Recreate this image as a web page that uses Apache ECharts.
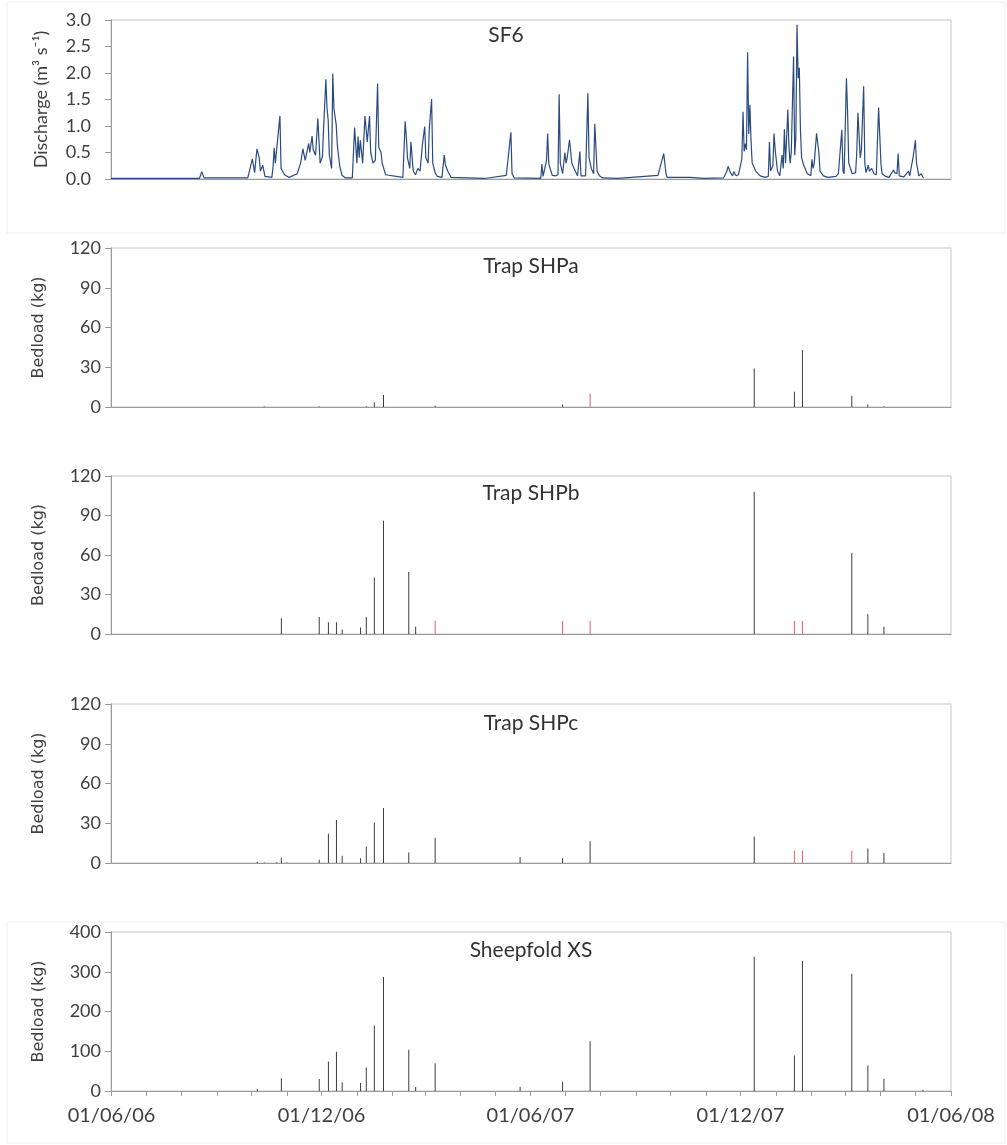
<!DOCTYPE html>
<html>
<head>
<meta charset="utf-8">
<script src="https://cdn.jsdelivr.net/npm/echarts@6/dist/echarts.min.js"></script>
<style>
html, body { margin: 0; background: #fff; }
#chart { width: 1007px; height: 1145px; }
</style>
</head>
<body>
<div id="chart"></div>
<script>
// SF6 discharge (m3/s)
var flowDates = [
    '2006-06-01','2006-08-17','2006-08-19','2006-08-21','2006-09-28','2006-10-02','2006-10-04','2006-10-06','2006-10-08','2006-10-09',
    '2006-10-11','2006-10-13','2006-10-19','2006-10-20','2006-10-21','2006-10-22','2006-10-23','2006-10-26','2006-10-27','2006-10-30',
    '2006-11-03','2006-11-10','2006-11-13','2006-11-15','2006-11-17','2006-11-20','2006-11-21','2006-11-23','2006-11-24','2006-11-26',
    '2006-11-28','2006-11-30','2006-12-02','2006-12-03','2006-12-05','2006-12-06','2006-12-07','2006-12-08','2006-12-10','2006-12-11',
    '2006-12-12','2006-12-14','2006-12-15','2006-12-17','2006-12-19','2006-12-22','2006-12-28','2006-12-30','2007-01-01','2007-01-02',
    '2007-01-03','2007-01-04','2007-01-06','2007-01-08','2007-01-10','2007-01-11','2007-01-12','2007-01-13','2007-01-15','2007-01-17',
    '2007-01-19','2007-01-20','2007-01-22','2007-01-23','2007-01-26','2007-02-10','2007-02-12','2007-02-13','2007-02-14','2007-02-16',
    '2007-02-17','2007-02-19','2007-02-21','2007-02-23','2007-02-25','2007-02-27','2007-03-01','2007-03-02','2007-03-04','2007-03-05',
    '2007-03-07','2007-03-08','2007-03-10','2007-03-12','2007-03-16','2007-03-18','2007-03-19','2007-03-21','2007-03-24','2007-04-22',
    '2007-05-11','2007-05-15','2007-05-16','2007-05-18','2007-06-10','2007-06-11','2007-06-12','2007-06-15','2007-06-16','2007-06-17',
    '2007-06-20','2007-06-23','2007-06-25','2007-06-26','2007-06-27','2007-06-29','2007-07-01','2007-07-02','2007-07-03','2007-07-05',
    '2007-07-06','2007-07-07','2007-07-09','2007-07-12','2007-07-14','2007-07-15','2007-07-19','2007-07-21','2007-07-22','2007-07-24',
    '2007-07-26','2007-07-27','2007-07-29','2007-07-31','2007-08-03','2007-08-16','2007-09-20','2007-09-21','2007-09-25','2007-09-27',
    '2007-09-28','2007-10-02','2007-10-10','2007-10-18','2007-10-30','2007-11-16','2007-11-19','2007-11-20','2007-11-22','2007-11-24',
    '2007-11-25','2007-11-27','2007-11-29','2007-12-02','2007-12-03','2007-12-04','2007-12-05','2007-12-06','2007-12-07','2007-12-08',
    '2007-12-09','2007-12-10','2007-12-11','2007-12-14','2007-12-18','2007-12-22','2007-12-25','2007-12-26','2007-12-27','2007-12-29',
    '2007-12-30','2007-12-31','2008-01-02','2008-01-04','2008-01-06','2008-01-07','2008-01-08','2008-01-09','2008-01-11','2008-01-12',
    '2008-01-13','2008-01-14','2008-01-16','2008-01-17','2008-01-18','2008-01-19','2008-01-20','2008-01-21','2008-01-22','2008-01-23',
    '2008-01-25','2008-01-28','2008-01-31','2008-02-01','2008-02-02','2008-02-03','2008-02-05','2008-02-07','2008-02-08','2008-02-11',
    '2008-02-15','2008-02-22','2008-02-24','2008-02-27','2008-02-28','2008-02-29','2008-03-02','2008-03-03','2008-03-04','2008-03-07',
    '2008-03-10','2008-03-11','2008-03-12','2008-03-14','2008-03-15','2008-03-17','2008-03-18','2008-03-19','2008-03-21','2008-03-22',
    '2008-03-24','2008-03-26','2008-03-28','2008-03-30','2008-04-01','2008-04-02','2008-04-05','2008-04-08','2008-04-12','2008-04-13',
    '2008-04-15','2008-04-16','2008-04-17','2008-04-21','2008-04-25','2008-04-26','2008-04-29','2008-05-01','2008-05-02','2008-05-04',
    '2008-05-06','2008-05-08'
];
var flowValues = [
    0.01,0.01,0.14,0.02,0.02,0.38,0.12,0.57,0.40,0.15,
    0.26,0.05,0.03,0.22,0.59,0.30,0.33,1.19,0.20,0.08,
    0.03,0.10,0.30,0.57,0.35,0.67,0.50,0.81,0.55,0.45,
    1.14,0.30,0.42,0.96,1.88,1.33,1.11,0.45,0.20,1.99,
    1.33,1.02,0.63,0.25,0.07,0.02,0.02,0.97,0.30,0.80,
    0.40,0.73,0.30,1.19,0.70,0.95,1.19,0.50,0.30,0.35,
    1.80,0.60,0.50,0.30,0.08,0.03,1.09,0.80,0.40,0.20,
    0.70,0.15,0.08,0.20,0.15,0.65,0.99,0.40,0.30,0.95,
    1.51,0.30,0.12,0.05,0.03,0.45,0.27,0.15,0.03,0.01,
    0.07,0.88,0.10,0.02,0.01,0.28,0.05,0.35,0.86,0.28,
    0.07,0.06,0.08,1.60,0.30,0.10,0.50,0.30,0.40,0.74,
    0.72,0.30,0.20,0.06,0.52,0.06,0.06,1.62,0.40,0.20,
    0.10,1.04,0.15,0.06,0.02,0.01,0.07,0.04,0.48,0.10,
    0.03,0.03,0.03,0.03,0.01,0.02,0.15,0.24,0.12,0.06,
    0.14,0.06,0.08,0.38,1.27,0.52,0.67,0.55,2.39,0.85,
    1.40,0.70,0.30,0.15,0.06,0.03,0.05,0.70,0.15,0.25,
    0.86,0.55,0.15,0.06,0.45,0.20,0.94,0.30,1.31,0.60,
    0.30,0.50,2.31,0.45,0.80,2.91,1.90,2.10,0.90,0.40,
    0.25,0.10,0.06,0.37,0.20,0.30,0.86,0.50,0.15,0.06,
    0.03,0.05,0.10,0.93,0.15,0.10,1.90,1.27,0.30,0.10,
    0.12,0.50,1.25,0.40,0.55,1.75,0.30,0.12,0.26,0.15,
    0.20,0.10,0.08,1.35,0.30,0.10,0.05,0.03,0.17,0.12,
    0.10,0.48,0.06,0.04,0.15,0.06,0.41,0.73,0.30,0.06,
    0.10,0.02
];

// trap emptying dates, shared by all bedload panels
var sampleDates = [
    '2006-10-06','2006-10-12','2006-10-23','2006-10-27','2006-11-01','2006-11-29','2006-12-07','2006-12-14','2006-12-19',
    '2007-01-04','2007-01-09','2007-01-16','2007-01-24','2007-02-15','2007-02-21','2007-03-10','2007-05-23','2007-06-29',
    '2007-07-23','2007-12-13','2008-01-17','2008-01-24','2008-03-07','2008-03-21','2008-04-04','2008-05-08'
];
// bedload (kg); "Full" = trap overfilled (drawn red)
var shpa      = [null,0.3,null,null,null,0.3,null,null,null,null,0.5,3.5,9,null,null,1,null,1.8,null,29,11.5,43,8.5,1.8,0.5,null];
var shpaFull  = [null,null,null,null,null,null,null,null,null,null,null,null,null,null,null,null,null,null,10,null,null,null,null,null,null,null];
var shpb      = [null,null,null,12,null,13,9,9,3.5,5,13,43,86,47,5.5,null,null,null,null,108,null,null,61.5,15,5.5,null];
var shpbFull  = [null,null,null,null,null,null,null,null,null,null,null,null,null,null,null,10,null,10,10,null,10,10,null,null,null,null];
var shpc      = [1,0.3,0.5,4,0.3,2.5,22,32.5,5.5,3.5,12.5,30.5,41.5,8,null,19,4.5,3.5,16.5,20,null,null,null,11,7.5,null];
var shpcFull  = [null,null,null,null,null,null,null,null,null,null,null,null,null,null,null,null,null,null,null,null,9.5,9.5,9.5,null,null,null];
var sheepfold = [5,null,null,32,null,30,74,99,22,20,59,165,287,104,10,70,11,23,125,338,89,327,295,64,31,3];

var panelTitles = ['SF6', 'Trap SHPa', 'Trap SHPb', 'Trap SHPc', 'Sheepfold XS'];
var yMax = [3, 120, 120, 120, 400];
var yStep = [0.5, 30, 30, 30, 100];

var chart = echarts.init(document.getElementById('chart'));

var gridTops = [20, 248, 476, 704, 932];
var gridHeights = [159, 159, 158, 159, 159];
var titleY = [35, 266, 493, 723, 950];

function pad(n) { return n < 10 ? '0' + n : '' + n; }

function pairs(dates, vals) {
    var out = [];
    for (var i = 0; i < dates.length; i++) {
        if (vals[i] != null) out.push([dates[i], vals[i]]);
    }
    return out;
}

var grids = [], xAxes = [], yAxes = [], graphics = [];
for (var i = 0; i < 5; i++) {
    grids.push({
        left: 111, right: 56, top: gridTops[i], height: gridHeights[i],
        show: true, borderColor: '#c6c6c6', borderWidth: 1, backgroundColor: 'transparent'
    });
    var last = (i === 4);
    xAxes.push({
        type: 'time', gridIndex: i,
        min: '2006-06-01', max: '2008-06-01',
        splitNumber: 24,
        minInterval: 28 * 864e5, maxInterval: 31 * 864e5,
        axisLine: { show: true, lineStyle: { color: '#9a9a9a' } },
        axisTick: { show: last, length: 5, lineStyle: { color: '#9a9a9a' } },
        axisLabel: {
            show: last, margin: 15, fontSize: 20, fontFamily: 'Lato', color: '#404040',
            showMinLabel: true, showMaxLabel: true, hideOverlap: false,
            formatter: function (v) {
                var d = new Date(v);
                var m = d.getMonth();
                if (d.getDate() === 1 && (m === 5 || m === 11)) {
                    return pad(1) + '/' + pad(m + 1) + '/' + String(d.getFullYear()).slice(2);
                }
                return '';
            }
        },
        splitLine: { show: false }
    });
    yAxes.push({
        type: 'value', gridIndex: i,
        min: 0, max: yMax[i], interval: yStep[i],
        name: i === 0 ? 'Discharge (m\u00b3 s\u207b\u00b9)' : 'Bedload (kg)',
        nameLocation: 'middle',
        nameGap: i === 0 ? 61 : 64,
        nameTextStyle: i === 0
            ? { fontSize: 18, fontFamily: 'Lato', color: '#404040' }
            : { fontSize: 16, fontFamily: 'DejaVu Sans', color: '#404040' },
        axisLine: { show: true, lineStyle: { color: '#9a9a9a' } },
        axisTick: { show: true, length: 6, lineStyle: { color: '#9a9a9a' } },
        axisLabel: {
            margin: i === 0 ? 20 : 10, fontSize: 18, fontFamily: 'Lato', color: '#404040',
            formatter: i === 0 ? function (v) { return v.toFixed(1); } : null
        },
        splitLine: { show: false }
    });
    graphics.push({
        type: 'text',
        style: {
            text: panelTitles[i],
            x: i === 0 ? 506 : 531, y: titleY[i],
            textAlign: 'center', textVerticalAlign: 'middle',
            fontSize: 21, fontFamily: 'Lato', fill: '#333'
        }
    });
}

// faint chart-area frames seen round the first and last charts
graphics.push({ type: 'rect', z: -10, shape: { x: 7, y: 2, width: 998, height: 231 }, style: { fill: 'none', stroke: '#eeeeee' } });
graphics.push({ type: 'rect', z: -10, shape: { x: 7, y: 922, width: 998, height: 221 }, style: { fill: 'none', stroke: '#eeeeee' } });

function barSeries(idx, data, color) {
    return {
        type: 'bar', xAxisIndex: idx, yAxisIndex: idx,
        barWidth: 1, barGap: '-100%',
        itemStyle: { color: color },
        data: data
    };
}

var black = '#3c3c3c', red = '#e46464';
var series = [
    {
        type: 'line', xAxisIndex: 0, yAxisIndex: 0,
        showSymbol: false, symbol: 'none',
        lineStyle: { width: 1.2, color: '#2a4b80' },
        data: pairs(flowDates, flowValues)
    },
    barSeries(1, pairs(sampleDates, shpa), black),
    barSeries(1, pairs(sampleDates, shpaFull), red),
    barSeries(2, pairs(sampleDates, shpb), black),
    barSeries(2, pairs(sampleDates, shpbFull), red),
    barSeries(3, pairs(sampleDates, shpc), black),
    barSeries(3, pairs(sampleDates, shpcFull), red),
    barSeries(4, pairs(sampleDates, sheepfold), black)
];

chart.setOption({
    animation: false,
    backgroundColor: '#ffffff',
    grid: grids,
    xAxis: xAxes,
    yAxis: yAxes,
    graphic: graphics,
    series: series
});
</script>
</body>
</html>
